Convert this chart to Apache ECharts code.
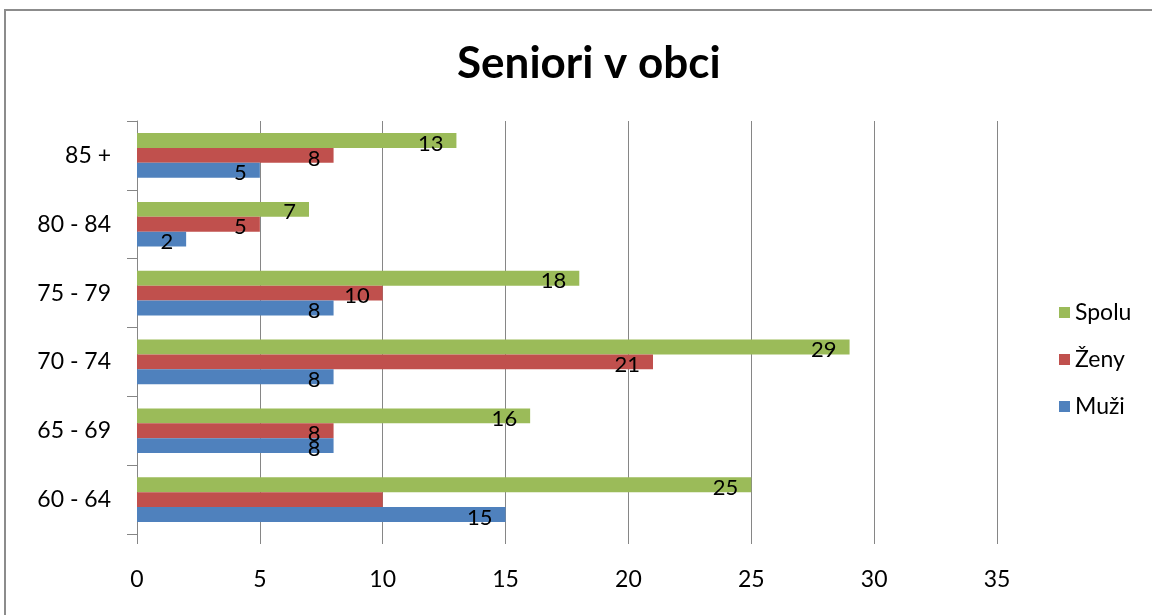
<!DOCTYPE html>
<html><head><meta charset="utf-8">
<script src="https://cdn.jsdelivr.net/npm/echarts@6/dist/echarts.min.js"></script>
<style>html,body{margin:0;padding:0;background:#fff}#c{width:1152px;height:615px}</style>
</head><body><div id="c"></div>
<script>
const categories = ['60 - 64', '65 - 69', '70 - 74', '75 - 79', '80 - 84', '85 +'];
const muzi = [15, 8, 8, 8, 2, 5];
const zeny = [10, 8, 21, 10, 5, 8];
const spolu = [25, 16, 29, 18, 7, 13];
const xTicks = [0, 5, 10, 15, 20, 25, 30, 35];
const hiddenLabels = { 'Ženy': [0] };

const FONT = 'Lato, "Open Sans", sans-serif';
function mk(name, values, color) {
  const hide = hiddenLabels[name] || [];
  return {
    name, type: 'bar', barGap: '0%', barCategoryGap: '35%',
    itemStyle: { color },
    data: values.map((v, i) => hide.includes(i) ? { value: v, label: { show: false } } : v),
    label: { show: true, position: 'insideRight', distance: 13, offset: [0, 3],
      color: '#000', fontSize: 22, fontFamily: FONT },
    emphasis: { disabled: true }
  };
}
const chart = echarts.init(document.getElementById('c'));
chart.setOption({
  animation: false,
  title: { text: 'Seniori v obci', left: 452, top: 37,
    textStyle: { fontSize: 44, fontWeight: 'bold', color: '#000', fontFamily: FONT } },
  graphic: [{ type: 'rect', shape: { x: 5, y: 10, width: 1200, height: 700 },
    style: { fill: 'none', stroke: '#8c8c8c', lineWidth: 2 }, silent: true }],
  legend: { orient: 'vertical', left: 1054, top: 296, itemGap: 24, itemWidth: 11, itemHeight: 11,
    icon: 'rect', data: ['Spolu', 'Ženy', 'Muži'],
    textStyle: { fontSize: 23, color: '#000', fontFamily: FONT } },
  grid: { left: 137, right: 155, top: 121, bottom: 81, containLabel: false },
  xAxis: { type: 'value', min: xTicks[0], max: xTicks[xTicks.length - 1], interval: 5,
    axisLine: { show: false }, axisTick: { show: true, length: 10, lineStyle: { color: '#868686' } },
    axisLabel: { fontSize: 23, color: '#000', margin: 34, fontFamily: FONT },
    splitLine: { show: true, lineStyle: { color: '#868686', width: 1 } } },
  yAxis: { type: 'category', data: categories,
    axisLine: { show: true, lineStyle: { color: '#868686' } },
    axisTick: { show: true, length: 10, lineStyle: { color: '#868686' } },
    axisLabel: { fontSize: 23, color: '#000', margin: 26, fontFamily: FONT } },
  series: [mk('Spolu', spolu, '#9BBB59'), mk('Ženy', zeny, '#C0504D'), mk('Muži', muzi, '#4F81BD')]
});
</script></body></html>
